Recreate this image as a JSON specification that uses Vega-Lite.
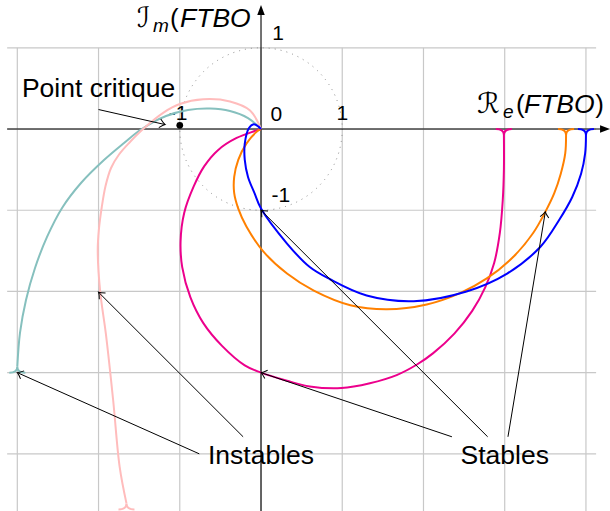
{
  "$schema": "https://vega.github.io/schema/vega-lite/v6.json",
  "width": 610,
  "height": 511,
  "padding": 0,
  "autosize": {"type": "none"},
  "config": {"view": {"stroke": null}, "axis": {"disable": true}, "legend": {"disable": true}},
  "datasets": {
    "vgrid": [{"x": -3}, {"x": -2}, {"x": -1}, {"x": 0}, {"x": 1}, {"x": 2}, {"x": 3}, {"x": 4}],
    "hgrid": [{"y": 1}, {"y": 0}, {"y": -1}, {"y": -2}, {"y": -3}, {"y": -4}],
    "axes": [
      {"x": -3.125, "y": 0, "x2": 4.19, "y2": 0},
      {"x": 0, "y": -4.704, "x2": 0, "y2": 1.41}
    ],
    "curves": [
      {"s": "teal", "i": 0, "x": -3.0, "y": -2.926},
      {"s": "teal", "i": 1, "x": -2.967, "y": -2.511},
      {"s": "teal", "i": 2, "x": -2.893, "y": -2.105},
      {"s": "teal", "i": 3, "x": -2.782, "y": -1.711},
      {"s": "teal", "i": 4, "x": -2.634, "y": -1.329},
      {"s": "teal", "i": 5, "x": -2.449, "y": -0.972},
      {"s": "teal", "i": 6, "x": -2.216, "y": -0.665},
      {"s": "teal", "i": 7, "x": -1.933, "y": -0.382},
      {"s": "teal", "i": 8, "x": -1.686, "y": -0.172},
      {"s": "teal", "i": 9, "x": -1.477, "y": -0.006},
      {"s": "teal", "i": 10, "x": -1.169, "y": 0.16},
      {"s": "teal", "i": 11, "x": -0.899, "y": 0.234},
      {"s": "teal", "i": 12, "x": -0.628, "y": 0.252},
      {"s": "teal", "i": 13, "x": -0.382, "y": 0.222},
      {"s": "teal", "i": 14, "x": -0.16, "y": 0.135},
      {"s": "teal", "i": 15, "x": 0, "y": 0},
      {"s": "pink", "i": 0, "x": -1.656, "y": -4.61},
      {"s": "pink", "i": 1, "x": -1.74, "y": -4.16},
      {"s": "pink", "i": 2, "x": -1.82, "y": -3.34},
      {"s": "pink", "i": 3, "x": -1.91, "y": -2.52},
      {"s": "pink", "i": 4, "x": -1.98, "y": -2.0},
      {"s": "pink", "i": 5, "x": -2.01, "y": -1.49},
      {"s": "pink", "i": 6, "x": -1.994, "y": -1.219},
      {"s": "pink", "i": 7, "x": -1.96, "y": -0.96},
      {"s": "pink", "i": 8, "x": -1.914, "y": -0.702},
      {"s": "pink", "i": 9, "x": -1.846, "y": -0.48},
      {"s": "pink", "i": 10, "x": -1.748, "y": -0.314},
      {"s": "pink", "i": 11, "x": -1.613, "y": -0.16},
      {"s": "pink", "i": 12, "x": -1.452, "y": 0.0},
      {"s": "pink", "i": 13, "x": -1.20, "y": 0.203},
      {"s": "pink", "i": 14, "x": -1.0, "y": 0.308},
      {"s": "pink", "i": 15, "x": -0.71, "y": 0.366},
      {"s": "pink", "i": 16, "x": -0.382, "y": 0.339},
      {"s": "pink", "i": 17, "x": -0.135, "y": 0.228},
      {"s": "pink", "i": 18, "x": 0, "y": 0},
      {"s": "magenta", "i": 0, "x": 2.99, "y": -0.074},
      {"s": "magenta", "i": 1, "x": 2.99, "y": -0.5},
      {"s": "magenta", "i": 2, "x": 2.976, "y": -0.874},
      {"s": "magenta", "i": 3, "x": 2.94, "y": -1.28},
      {"s": "magenta", "i": 4, "x": 2.87, "y": -1.65},
      {"s": "magenta", "i": 5, "x": 2.76, "y": -1.95},
      {"s": "magenta", "i": 6, "x": 2.60, "y": -2.24},
      {"s": "magenta", "i": 7, "x": 2.38, "y": -2.52},
      {"s": "magenta", "i": 8, "x": 2.12, "y": -2.76},
      {"s": "magenta", "i": 9, "x": 1.92, "y": -2.90},
      {"s": "magenta", "i": 10, "x": 1.67, "y": -3.03},
      {"s": "magenta", "i": 11, "x": 1.34, "y": -3.13},
      {"s": "magenta", "i": 12, "x": 0.99, "y": -3.19},
      {"s": "magenta", "i": 13, "x": 0.60, "y": -3.17},
      {"s": "magenta", "i": 14, "x": 0.32, "y": -3.10},
      {"s": "magenta", "i": 15, "x": 0.0, "y": -3.0},
      {"s": "magenta", "i": 16, "x": -0.20, "y": -2.91},
      {"s": "magenta", "i": 17, "x": -0.48, "y": -2.67},
      {"s": "magenta", "i": 18, "x": -0.71, "y": -2.39},
      {"s": "magenta", "i": 19, "x": -0.87, "y": -2.07},
      {"s": "magenta", "i": 20, "x": -0.97, "y": -1.70},
      {"s": "magenta", "i": 21, "x": -0.99, "y": -1.38},
      {"s": "magenta", "i": 22, "x": -0.945, "y": -1.03},
      {"s": "magenta", "i": 23, "x": -0.83, "y": -0.71},
      {"s": "magenta", "i": 24, "x": -0.70, "y": -0.46},
      {"s": "magenta", "i": 25, "x": -0.53, "y": -0.26},
      {"s": "magenta", "i": 26, "x": -0.30, "y": -0.11},
      {"s": "magenta", "i": 27, "x": 0, "y": 0},
      {"s": "orange", "i": 0, "x": 3.755, "y": -0.074},
      {"s": "orange", "i": 1, "x": 3.745, "y": -0.30},
      {"s": "orange", "i": 2, "x": 3.69, "y": -0.55},
      {"s": "orange", "i": 3, "x": 3.61, "y": -0.79},
      {"s": "orange", "i": 4, "x": 3.50, "y": -1.02},
      {"s": "orange", "i": 5, "x": 3.35, "y": -1.28},
      {"s": "orange", "i": 6, "x": 3.11, "y": -1.57},
      {"s": "orange", "i": 7, "x": 2.78, "y": -1.84},
      {"s": "orange", "i": 8, "x": 2.45, "y": -2.02},
      {"s": "orange", "i": 9, "x": 2.04, "y": -2.16},
      {"s": "orange", "i": 10, "x": 1.55, "y": -2.22},
      {"s": "orange", "i": 11, "x": 1.10, "y": -2.17},
      {"s": "orange", "i": 12, "x": 0.65, "y": -1.99},
      {"s": "orange", "i": 13, "x": 0.32, "y": -1.78},
      {"s": "orange", "i": 14, "x": 0.03, "y": -1.51},
      {"s": "orange", "i": 15, "x": -0.18, "y": -1.20},
      {"s": "orange", "i": 16, "x": -0.28, "y": -0.98},
      {"s": "orange", "i": 17, "x": -0.33, "y": -0.79},
      {"s": "orange", "i": 18, "x": -0.33, "y": -0.59},
      {"s": "orange", "i": 19, "x": -0.28, "y": -0.38},
      {"s": "orange", "i": 20, "x": -0.18, "y": -0.18},
      {"s": "orange", "i": 21, "x": -0.05, "y": -0.03},
      {"s": "orange", "i": 22, "x": 0, "y": 0},
      {"s": "blue", "i": 0, "x": 4.0, "y": -0.074},
      {"s": "blue", "i": 1, "x": 3.99, "y": -0.30},
      {"s": "blue", "i": 2, "x": 3.94, "y": -0.55},
      {"s": "blue", "i": 3, "x": 3.83, "y": -0.84},
      {"s": "blue", "i": 4, "x": 3.67, "y": -1.12},
      {"s": "blue", "i": 5, "x": 3.44, "y": -1.45},
      {"s": "blue", "i": 6, "x": 3.03, "y": -1.78},
      {"s": "blue", "i": 7, "x": 2.53, "y": -2.0},
      {"s": "blue", "i": 8, "x": 1.88, "y": -2.12},
      {"s": "blue", "i": 9, "x": 1.30, "y": -2.05},
      {"s": "blue", "i": 10, "x": 0.85, "y": -1.85},
      {"s": "blue", "i": 11, "x": 0.60, "y": -1.70},
      {"s": "blue", "i": 12, "x": 0.32, "y": -1.41},
      {"s": "blue", "i": 13, "x": 0.0, "y": -0.98},
      {"s": "blue", "i": 14, "x": -0.08, "y": -0.79},
      {"s": "blue", "i": 15, "x": -0.16, "y": -0.59},
      {"s": "blue", "i": 16, "x": -0.20, "y": -0.38},
      {"s": "blue", "i": 17, "x": -0.20, "y": -0.18},
      {"s": "blue", "i": 18, "x": -0.15, "y": 0.01},
      {"s": "blue", "i": 19, "x": -0.09, "y": 0.06},
      {"s": "blue", "i": 20, "x": -0.03, "y": 0.03},
      {"s": "blue", "i": 21, "x": 0, "y": 0}
    ],
    "forksTop": [
      {"s": "magenta", "x": 2.99, "y": 0},
      {"s": "orange", "x": 3.755, "y": 0},
      {"s": "blue", "x": 4.0, "y": 0}
    ],
    "forksBottom": [
      {"s": "teal", "x": -3.0, "y": -3.0},
      {"s": "pink", "x": -1.656, "y": -4.684}
    ],
    "arrows": [
      {"id": "pc", "x": -2.0, "y": 0.24, "x2": -1.18, "y2": 0.055},
      {"id": "i1", "x": -0.76, "y": -4.0, "x2": -3.0, "y2": -3.0},
      {"id": "i2", "x": -0.22, "y": -3.79, "x2": -2.0, "y2": -2.01},
      {"id": "s1", "x": 2.35, "y": -3.79, "x2": 0.0, "y2": -3.0},
      {"id": "s2", "x": 2.79, "y": -3.79, "x2": 0.0, "y2": -1.0},
      {"id": "s3", "x": 3.04, "y": -3.79, "x2": 3.5, "y2": -1.02}
    ],
    "bigText": [
      {"t": "Point critique", "x": -2.0, "y": 0.40},
      {"t": "Instables", "x": 0.0, "y": -4.12},
      {"t": "Stables", "x": 3.0, "y": -4.12}
    ],
    "scriptText": [
      {"t": "ℐ", "x": -1.526, "y": 1.256},
      {"t": "ℛ", "x": 2.659, "y": 0.197}
    ],
    "subText": [
      {"t": "m", "x": -1.33, "y": 1.20},
      {"t": "e", "x": 2.979, "y": 0.135}
    ],
    "parenText": [
      {"t": "(", "x": -1.12, "y": 1.256},
      {"t": "(", "x": 3.139, "y": 0.197},
      {"t": ")", "x": 4.115, "y": 0.197}
    ],
    "italText": [
      {"t": "FTBO", "x": -0.997, "y": 1.256},
      {"t": "FTBO", "x": 3.237, "y": 0.197}
    ],
    "numText": [
      {"t": "0", "x": 0.19, "y": 0.10},
      {"t": "1", "x": 1.0, "y": 0.11},
      {"t": "1", "x": 0.21, "y": 1.10},
      {"t": "-1", "x": 0.245, "y": -0.895},
      {"t": "-1", "x": -1.02, "y": 0.11}
    ]
  },
  "layer": [
    {
      "data": {"name": "vgrid"},
      "mark": {"type": "rule", "color": "#c8c8c8", "strokeWidth": 1.2},
      "encoding": {
        "x": {"field": "x", "type": "quantitative", "scale": {"domain": [-3.213, 4.296], "nice": false, "zero": false}},
        "y": {"datum": -4.704, "type": "quantitative", "scale": {"domain": [-4.704, 1.589], "nice": false, "zero": false}},
        "y2": {"datum": 1}
      }
    },
    {
      "data": {"name": "hgrid"},
      "mark": {"type": "rule", "color": "#c8c8c8", "strokeWidth": 1.2},
      "encoding": {
        "y": {"field": "y", "type": "quantitative"},
        "x": {"datum": -3.125, "type": "quantitative"},
        "x2": {"datum": 4.125}
      }
    },
    {
      "data": {"values": [{"x": 0, "y": 0}]},
      "mark": {"type": "point", "shape": "circle", "size": 26400, "filled": false, "stroke": "#8a8a8a", "strokeWidth": 1, "strokeDash": [1, 5], "opacity": 1},
      "encoding": {
        "x": {"field": "x", "type": "quantitative"},
        "y": {"field": "y", "type": "quantitative"}
      }
    },
    {
      "data": {"name": "axes"},
      "mark": {"type": "rule", "color": "black", "strokeWidth": 1.1},
      "encoding": {
        "x": {"field": "x", "type": "quantitative"},
        "y": {"field": "y", "type": "quantitative"},
        "x2": {"field": "x2"},
        "y2": {"field": "y2"}
      }
    },
    {
      "data": {"values": [{"x": 4.235, "y": 0}]},
      "mark": {"type": "point", "shape": "M -1 -0.75 L 1 0 L -1 0.75 Z", "size": 100, "filled": true, "color": "black", "opacity": 1},
      "encoding": {"x": {"field": "x", "type": "quantitative"}, "y": {"field": "y", "type": "quantitative"}}
    },
    {
      "data": {"values": [{"x": 0, "y": 1.466}]},
      "mark": {"type": "point", "shape": "M -1 -0.75 L 1 0 L -1 0.75 Z", "size": 100, "filled": true, "color": "black", "opacity": 1, "angle": 270},
      "encoding": {"x": {"field": "x", "type": "quantitative"}, "y": {"field": "y", "type": "quantitative"}}
    },
    {
      "data": {"name": "numText"},
      "mark": {"type": "text", "font": "Liberation Sans", "fontSize": 21, "align": "center", "baseline": "alphabetic", "color": "black"},
      "encoding": {"x": {"field": "x", "type": "quantitative"}, "y": {"field": "y", "type": "quantitative"}, "text": {"field": "t"}}
    },
    {
      "data": {"name": "curves"},
      "mark": {"type": "line", "strokeWidth": 2, "interpolate": "catmull-rom"},
      "encoding": {
        "x": {"field": "x", "type": "quantitative"},
        "y": {"field": "y", "type": "quantitative"},
        "order": {"field": "i", "type": "quantitative"},
        "color": {"field": "s", "type": "nominal", "legend": null, "scale": {"domain": ["teal", "pink", "magenta", "orange", "blue"], "range": ["#86c0be", "#ffbcbc", "#ec008c", "#ff8000", "#0000ff"]}}
      }
    },
    {
      "data": {"name": "forksTop"},
      "mark": {"type": "point", "shape": "M -1 0 C -0.4 0 0 0.25 0 0.75 C 0 0.25 0.4 0 1 0", "size": 256, "filled": false, "strokeWidth": 2, "opacity": 1},
      "encoding": {
        "x": {"field": "x", "type": "quantitative"},
        "y": {"field": "y", "type": "quantitative"},
        "color": {"field": "s", "type": "nominal", "legend": null}
      }
    },
    {
      "data": {"name": "forksBottom"},
      "mark": {"type": "point", "shape": "M -1 0 C -0.4 0 0 0.25 0 0.75 C 0 0.25 0.4 0 1 0", "size": 256, "filled": false, "strokeWidth": 2, "opacity": 1, "angle": 180},
      "encoding": {
        "x": {"field": "x", "type": "quantitative"},
        "y": {"field": "y", "type": "quantitative"},
        "color": {"field": "s", "type": "nominal", "legend": null}
      }
    },
    {
      "data": {"name": "arrows"},
      "mark": {"type": "rule", "color": "black", "strokeWidth": 1},
      "encoding": {
        "x": {"field": "x", "type": "quantitative"},
        "y": {"field": "y", "type": "quantitative"},
        "x2": {"field": "x2"},
        "y2": {"field": "y2"}
      }
    },
    {
      "data": {"name": "arrows"},
      "transform": [{"filter": "datum.id === 'pc'"}],
      "mark": {"type": "point", "shape": "M -1 -0.8 Q -0.35 -0.15 0 0 Q -0.35 0.15 -1 0.8", "size": 121, "filled": false, "color": "black", "strokeWidth": 1, "opacity": 1, "angle": 12.8},
      "encoding": {"x": {"field": "x2", "type": "quantitative"}, "y": {"field": "y2", "type": "quantitative"}}
    },
    {
      "data": {"name": "arrows"},
      "transform": [{"filter": "datum.id === 'i1'"}],
      "mark": {"type": "point", "shape": "M -1 -0.8 Q -0.35 -0.15 0 0 Q -0.35 0.15 -1 0.8", "size": 121, "filled": false, "color": "black", "strokeWidth": 1, "opacity": 1, "angle": 204.2},
      "encoding": {"x": {"field": "x2", "type": "quantitative"}, "y": {"field": "y2", "type": "quantitative"}}
    },
    {
      "data": {"name": "arrows"},
      "transform": [{"filter": "datum.id === 'i2'"}],
      "mark": {"type": "point", "shape": "M -1 -0.8 Q -0.35 -0.15 0 0 Q -0.35 0.15 -1 0.8", "size": 121, "filled": false, "color": "black", "strokeWidth": 1, "opacity": 1, "angle": 225.1},
      "encoding": {"x": {"field": "x2", "type": "quantitative"}, "y": {"field": "y2", "type": "quantitative"}}
    },
    {
      "data": {"name": "arrows"},
      "transform": [{"filter": "datum.id === 's1'"}],
      "mark": {"type": "point", "shape": "M -1 -0.8 Q -0.35 -0.15 0 0 Q -0.35 0.15 -1 0.8", "size": 121, "filled": false, "color": "black", "strokeWidth": 1, "opacity": 1, "angle": 198.6},
      "encoding": {"x": {"field": "x2", "type": "quantitative"}, "y": {"field": "y2", "type": "quantitative"}}
    },
    {
      "data": {"name": "arrows"},
      "transform": [{"filter": "datum.id === 's2'"}],
      "mark": {"type": "point", "shape": "M -1 -0.8 Q -0.35 -0.15 0 0 Q -0.35 0.15 -1 0.8", "size": 121, "filled": false, "color": "black", "strokeWidth": 1, "opacity": 1, "angle": 225},
      "encoding": {"x": {"field": "x2", "type": "quantitative"}, "y": {"field": "y2", "type": "quantitative"}}
    },
    {
      "data": {"name": "arrows"},
      "transform": [{"filter": "datum.id === 's3'"}],
      "mark": {"type": "point", "shape": "M -1 -0.8 Q -0.35 -0.15 0 0 Q -0.35 0.15 -1 0.8", "size": 121, "filled": false, "color": "black", "strokeWidth": 1, "opacity": 1, "angle": 279.3},
      "encoding": {"x": {"field": "x2", "type": "quantitative"}, "y": {"field": "y2", "type": "quantitative"}}
    },
    {
      "data": {"values": [{"x": -1, "y": 0.045}]},
      "mark": {"type": "point", "shape": "circle", "size": 45, "filled": true, "color": "black", "opacity": 1},
      "encoding": {"x": {"field": "x", "type": "quantitative"}, "y": {"field": "y", "type": "quantitative"}}
    },
    {
      "data": {"name": "bigText"},
      "mark": {"type": "text", "font": "Liberation Sans", "fontSize": 26.5, "align": "center", "baseline": "alphabetic", "color": "black"},
      "encoding": {"x": {"field": "x", "type": "quantitative"}, "y": {"field": "y", "type": "quantitative"}, "text": {"field": "t"}}
    },
    {
      "data": {"name": "scriptText"},
      "mark": {"type": "text", "font": "DejaVu Sans", "fontSize": 28, "align": "left", "baseline": "alphabetic", "color": "black"},
      "encoding": {"x": {"field": "x", "type": "quantitative"}, "y": {"field": "y", "type": "quantitative"}, "text": {"field": "t"}}
    },
    {
      "data": {"name": "subText"},
      "mark": {"type": "text", "font": "Liberation Sans", "fontSize": 19, "fontStyle": "italic", "align": "left", "baseline": "alphabetic", "color": "black"},
      "encoding": {"x": {"field": "x", "type": "quantitative"}, "y": {"field": "y", "type": "quantitative"}, "text": {"field": "t"}}
    },
    {
      "data": {"name": "parenText"},
      "mark": {"type": "text", "font": "Liberation Sans", "fontSize": 26, "align": "left", "baseline": "alphabetic", "color": "black"},
      "encoding": {"x": {"field": "x", "type": "quantitative"}, "y": {"field": "y", "type": "quantitative"}, "text": {"field": "t"}}
    },
    {
      "data": {"name": "italText"},
      "mark": {"type": "text", "font": "Liberation Sans", "fontSize": 26.5, "fontStyle": "italic", "align": "left", "baseline": "alphabetic", "color": "black"},
      "encoding": {"x": {"field": "x", "type": "quantitative"}, "y": {"field": "y", "type": "quantitative"}, "text": {"field": "t"}}
    }
  ]
}
